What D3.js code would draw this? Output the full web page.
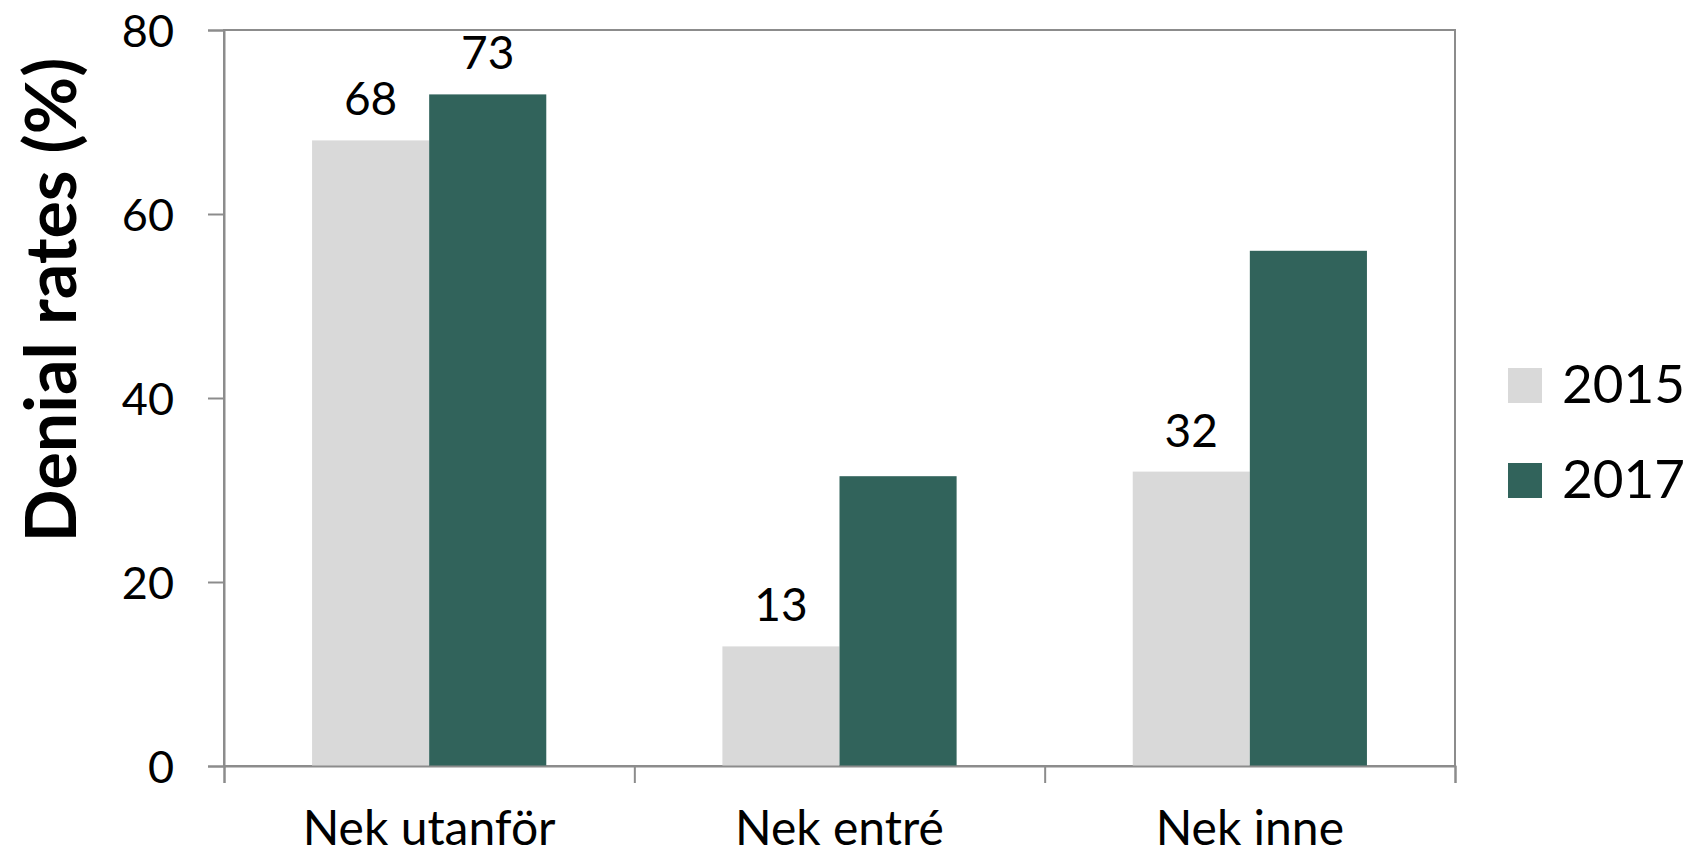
<!DOCTYPE html>
<html>
<head>
<meta charset="utf-8">
<script src="https://cdn.jsdelivr.net/npm/d3@7"></script>
<style>
  html, body { margin: 0; padding: 0; background: #ffffff; }
  svg { display: block; font-family: Lato, "Open Sans", sans-serif; }
</style>
</head>
<body>
<svg id="chart" width="1697" height="856"></svg>
<script>
// Denial rates by location, 2015 vs 2017
const categories = ["Nek utanför", "Nek entré", "Nek inne"];
const seriesNames = ["2015", "2017"];
const values2015 = [68, 13, 32];
const values2017 = [73, 31.5, 56];
// Value labels shown above bars (null = no label)
const labels2015 = ["68", "13", "32"];
const labels2017 = ["73", null, null];
const yTicks = [0, 20, 40, 60, 80];
const seriesColors = ["#d9d9d9", "#31635b"];

const svg = d3.select("#chart");
const plot = { left: 224, right: 1455, top: 30, bottom: 766 };

const x0 = d3.scaleBand().domain(categories).range([plot.left, plot.right]).paddingInner(0).paddingOuter(0);
const gap = x0.bandwidth() * 0.2146;
const x1 = d3.scaleBand().domain(seriesNames).range([gap, x0.bandwidth() - gap]).padding(0);
const y = d3.scaleLinear().domain([0, 80]).range([plot.bottom, plot.top]);
const color = d3.scaleOrdinal().domain(seriesNames).range(seriesColors);

const rows = categories.map((c, i) => ({
  category: c,
  items: [
    { series: "2015", value: values2015[i], label: labels2015[i] },
    { series: "2017", value: values2017[i], label: labels2017[i] }
  ]
}));

// Plot area frame
svg.append("rect")
  .attr("x", plot.left).attr("y", plot.top)
  .attr("width", plot.right - plot.left).attr("height", plot.bottom - plot.top)
  .attr("fill", "none").attr("stroke", "#8c8c8c").attr("stroke-width", 2);

// Bars
const groups = svg.append("g").selectAll("g")
  .data(rows).join("g")
  .attr("transform", d => `translate(${x0(d.category)},0)`);

groups.selectAll("rect")
  .data(d => d.items).join("rect")
  .attr("x", d => x1(d.series))
  .attr("y", d => y(d.value))
  .attr("width", x1.bandwidth())
  .attr("height", d => y(0) - y(d.value))
  .attr("fill", d => color(d.series));

groups.selectAll("text")
  .data(d => d.items.filter(it => it.label !== null)).join("text")
  .attr("x", d => x1(d.series) + x1.bandwidth() / 2)
  .attr("y", d => y(d.value) - 25)
  .attr("text-anchor", "middle")
  .attr("font-size", 46)
  .attr("fill", "#000")
  .text(d => d.label);

// Y axis
const yAxis = svg.append("g")
  .attr("transform", `translate(${plot.left},0)`)
  .call(d3.axisLeft(y).tickValues(yTicks).tickSize(16).tickPadding(34).tickFormat(d3.format("d")));
yAxis.select(".domain").attr("stroke", "#8c8c8c").attr("stroke-width", 2);
yAxis.selectAll(".tick line").attr("stroke", "#8c8c8c").attr("stroke-width", 2);
yAxis.selectAll(".tick text").attr("font-size", 45).attr("fill", "#000")
  .attr("font-family", "Lato, 'Open Sans', sans-serif").attr("dy", "0.36em");

// X axis: boundary ticks between categories
const xBoundaries = categories.map(c => x0(c)).concat([x0(categories[categories.length - 1]) + x0.bandwidth()]);
const xEdge = d3.scaleLinear().domain([plot.left, plot.right]).range([plot.left, plot.right]);
const xAxis = svg.append("g")
  .attr("transform", `translate(0,${plot.bottom})`)
  .call(d3.axisBottom(xEdge).tickValues(xBoundaries).tickSize(17).tickFormat(""));
xAxis.select(".domain").attr("stroke", "#8c8c8c").attr("stroke-width", 2);
xAxis.selectAll(".tick line").attr("stroke", "#8c8c8c").attr("stroke-width", 2);

// Category labels
svg.append("g").selectAll("text")
  .data(categories).join("text")
  .attr("x", d => x0(d) + x0.bandwidth() / 2)
  .attr("y", 845)
  .attr("text-anchor", "middle")
  .attr("font-size", 48)
  .attr("fill", "#000")
  .text(d => d);

// Y axis title
svg.append("text")
  .attr("transform", "translate(76,300) rotate(-90)")
  .attr("text-anchor", "middle")
  .attr("font-size", 70)
  .attr("font-weight", "bold")
  .attr("fill", "#000")
  .text("Denial rates (%)");

// Legend
const legend = svg.append("g").selectAll("g")
  .data(seriesNames).join("g")
  .attr("transform", (d, i) => `translate(1508,${368 + i * 95})`);
legend.append("rect")
  .attr("width", 34).attr("height", 35)
  .attr("fill", d => color(d));
legend.append("text")
  .attr("x", 54).attr("y", 35)
  .attr("font-size", 53)
  .attr("fill", "#000")
  .text(d => d);
</script>
</body>
</html>
